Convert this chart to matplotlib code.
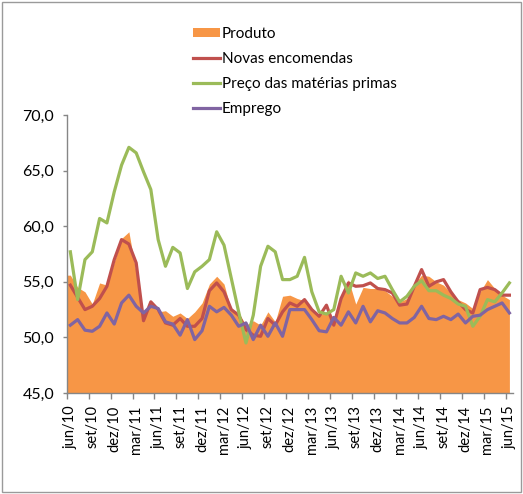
import matplotlib
matplotlib.use("Agg")
import matplotlib.pyplot as plt
from matplotlib.patches import Patch, Rectangle
from matplotlib.lines import Line2D
from matplotlib.ticker import FuncFormatter
import numpy as np

plt.rcParams['font.family'] = ['Lato', 'DejaVu Sans']

# monthly index jun/10 .. jun/15
produto = [55.6, 54.5, 54.1, 53.0, 54.9, 54.7, 56.8, 58.9, 59.5, 55.8,
           52.0, 53.0, 52.3, 52.4, 51.9, 52.2, 51.7, 52.3, 53.1, 54.8,
           55.5, 54.8, 52.4, 52.2, 51.1, 51.5, 51.1, 52.3, 51.4, 53.7,
           53.8, 53.5, 53.3, 52.5, 52.0, 52.3, 51.8, 53.5, 55.2, 53.0,
           54.5, 54.4, 54.4, 54.2, 53.7, 53.2, 53.5, 54.8, 55.6, 55.5,
           55.0, 54.7, 54.0, 53.4, 53.1, 52.6, 54.1, 55.2, 54.4, 53.8,
           53.4]
novas = [54.7, 53.6, 52.5, 52.8, 53.5, 54.6, 57.0, 58.8, 58.4, 56.7,
         51.5, 53.2, 52.5, 51.3, 51.1, 51.7, 51.0, 51.0, 51.7, 54.2,
         54.9, 54.1, 52.5, 52.0, 50.7, 50.2, 50.1, 51.7, 51.1, 52.3,
         53.1, 52.8, 53.4, 52.5, 51.9, 52.9, 51.1, 53.5, 54.9, 54.6,
         54.65, 54.9, 54.4, 54.3, 54.0, 52.9, 53.0, 54.6, 56.1, 54.6,
         55.0, 55.2, 54.1, 53.2, 52.5, 52.2, 54.3, 54.5, 54.3, 53.8,
         53.8]
preco = [57.7, 53.4, 57.0, 57.7, 60.7, 60.3, 63.1, 65.5, 67.1, 66.6,
         64.9, 63.3, 58.8, 56.4, 58.1, 57.6, 54.4, 55.9, 56.4, 57.0,
         59.5, 58.3, 55.3, 52.3, 49.5, 52.0, 56.4, 58.2, 57.7, 55.2,
         55.2, 55.5, 57.2, 54.1, 52.3, 52.1, 52.5, 55.5, 54.0, 55.8,
         55.5, 55.8, 55.3, 55.5, 54.3, 53.2, 53.7, 54.6, 55.1, 54.2,
         54.2, 53.8, 53.5, 53.0, 52.8, 51.0, 51.9, 53.4, 53.2, 54.0,
         54.9]
emprego = [51.1, 51.6, 50.65, 50.55, 51.0, 52.2, 51.2, 53.1, 53.8, 52.8,
           52.2, 52.8, 52.6, 51.4, 51.2, 50.2, 51.6, 49.8, 50.6, 52.8,
           52.3, 52.7, 52.0, 51.0, 51.3, 49.8, 51.1, 50.1, 51.3, 50.1,
           52.5, 52.5, 52.5, 51.6, 50.6, 50.5, 51.8, 51.1, 52.3, 51.3,
           52.8, 51.4, 52.4, 52.2, 51.7, 51.3, 51.3, 51.8, 52.8, 51.7,
           51.6, 51.9, 51.6, 52.1, 51.3, 51.9, 52.0, 52.5, 52.8, 53.1,
           52.2]
tick_labels = ['jun/10', 'set/10', 'dez/10', 'mar/11', 'jun/11', 'set/11',
               'dez/11', 'mar/12', 'jun/12', 'set/12', 'dez/12', 'mar/13',
               'jun/13', 'set/13', 'dez/13', 'mar/14', 'jun/14', 'set/14',
               'dez/14', 'mar/15', 'jun/15']

c_prod = '#F79646'
c_novas = '#C0504D'
c_preco = '#9BBB59'
c_emp = '#8064A2'

x = np.arange(len(produto))

fig = plt.figure(figsize=(5.23, 4.94), dpi=100)
ax = fig.add_axes([0.1275, 0.2045, 0.8535, 0.5625])

# area reaches the axis on the left like in the original
xa = np.r_[-0.5, x]
ya = np.r_[produto[0], produto]
ax.fill_between(xa, 45, ya, color=c_prod, lw=0, zorder=1)
ax.plot(x, novas, color=c_novas, lw=2.3, zorder=2)
ax.plot(x, preco, color=c_preco, lw=2.3, zorder=3)
ax.plot(x, emprego, color=c_emp, lw=2.3, zorder=4)

ax.set_xlim(-0.5, len(x) - 0.5)
ax.set_ylim(45, 70)
ax.set_yticks(np.arange(45, 70.1, 5))
ax.yaxis.set_major_formatter(FuncFormatter(lambda v, p: f'{v:.1f}'.replace('.', ',')))

# tick marks between categories, labels on the categories
ax.set_xticks(np.arange(0, len(x), 3) - 0.5)
ax.set_xticklabels([])
ax.set_xticks(np.arange(0, len(x), 3), minor=True)
ax.set_xticklabels(tick_labels, minor=True, rotation=90, fontsize=10.5)
ax.tick_params(axis='x', which='major', length=4, width=1, color='#868686', direction='out')
ax.tick_params(axis='x', which='minor', length=0, pad=9)
ax.tick_params(axis='y', length=3, width=1, color='#868686', pad=6, labelsize=11.5)

for s in ['top', 'right']:
    ax.spines[s].set_visible(False)
for s in ['left', 'bottom']:
    ax.spines[s].set_color('#868686')
    ax.spines[s].set_linewidth(1)

handles = [Patch(facecolor=c_prod, edgecolor='none'),
           Line2D([], [], color=c_novas, lw=2.3),
           Line2D([], [], color=c_preco, lw=2.3),
           Line2D([], [], color=c_emp, lw=2.3)]
labels = ['Produto', 'Novas encomendas', 'Preço das matérias primas', 'Emprego']
fig.legend(handles, labels, loc='upper left', bbox_to_anchor=(193 / 523, 1 - 27 / 494),
           frameon=False, fontsize=11, handlelength=1.75, handleheight=0.55,
           handletextpad=0.15, labelspacing=0.72, borderpad=0, borderaxespad=0)

fig.patches.append(Rectangle((0.004, 0.004), 0.992, 0.992, transform=fig.transFigure,
                             fill=False, edgecolor='#9A9A9A', lw=1))

fig.savefig('out.png', dpi=100)
